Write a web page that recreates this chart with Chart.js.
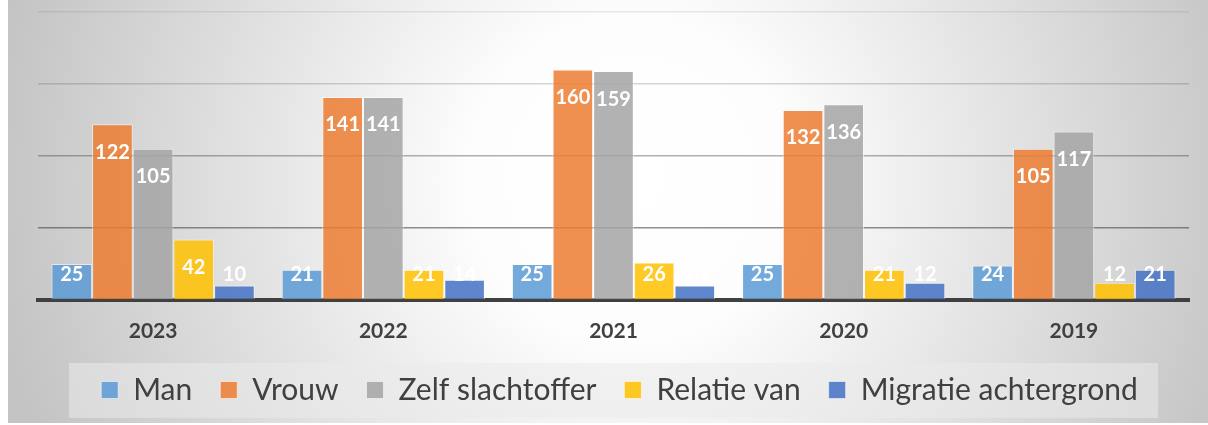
<!DOCTYPE html>
<html><head><meta charset="utf-8">
<script src="https://cdn.jsdelivr.net/npm/chart.js@4.4.1/dist/chart.umd.min.js"></script>
<style>html,body{margin:0;padding:0;background:#fff;overflow:hidden}#wrap{width:1208px;height:425px;position:relative}</style>
</head><body><div id="wrap"><canvas id="c" width="1208" height="425"></canvas></div>
<script>
const categories = ['2023', '2022', '2021', '2020', '2019'];
const seriesNames = ['Man', 'Vrouw', 'Zelf slachtoffer', 'Relatie van', 'Migratie achtergrond'];
const man = [25, 21, 25, 25, 24];
const vrouw = [122, 141, 160, 132, 105];
const zelf = [105, 141, 159, 136, 117];
const relatie = [42, 21, 26, 21, 12];
const migratie = [10, 14, 10, 12, 21];
const yTicks = [0, 50, 100, 150, 200];

const seriesValues = [man, vrouw, zelf, relatie, migratie];
const seriesColors = ['rgba(91,155,213,0.85)', 'rgba(237,125,49,0.85)', 'rgba(165,165,165,0.85)', 'rgba(255,192,0,0.85)', 'rgba(68,114,196,0.85)'];
const gridColors = {0: 'rgba(0,0,0,0)', 50: 'rgba(70,70,70,0.6)', 100: 'rgba(70,70,70,0.42)', 150: 'rgba(70,70,70,0.22)', 200: 'rgba(70,70,70,0.1)'};

const background = {
  id: 'background',
  afterLayout(chart) {
    if (chart.legend) { chart.legend.left += 6; chart.legend.right += 6; }
  },
  beforeDraw(chart) {
    const ctx = chart.ctx;
    ctx.save();
    ctx.fillStyle = '#ffffff';
    ctx.fillRect(0, 0, chart.width, chart.height);
    const g = ctx.createRadialGradient(630, 180, 0, 630, 180, 640);
    g.addColorStop(0, '#ffffff');
    g.addColorStop(0.25, '#fdfdfd');
    g.addColorStop(1, '#c4c4c4');
    ctx.fillStyle = g;
    ctx.fillRect(8, 0, 1200, 423);
    ctx.fillStyle = 'rgba(235,235,235,0.54)';
    ctx.fillRect(69, 363, 1089, 55);
    ctx.restore();
  }
};

const valueLabels = {
  id: 'valueLabels',
  afterDatasetsDraw(chart) {
    const ctx = chart.ctx;
    ctx.save();
    ctx.font = 'bold 20px Lato';
    ctx.fillStyle = '#ffffff';
    ctx.textAlign = 'center';
    ctx.textBaseline = 'alphabetic';
    chart.data.datasets.forEach((ds, i) => {
      chart.getDatasetMeta(i).data.forEach((bar, j) => {
        const cy = Math.min(bar.y + 27.5, bar.base - 25);
        ctx.fillText(String(ds.data[j]), bar.x, cy + 7);
      });
    });
    ctx.restore();
  }
};

new Chart(document.getElementById('c'), {
  type: 'bar',
  data: {
    labels: categories,
    datasets: seriesNames.map((name, i) => ({
      label: name,
      data: seriesValues[i],
      backgroundColor: seriesColors[i],
      borderColor: 'rgba(255,255,255,0.55)',
      borderWidth: 1,
      categoryPercentage: 0.883,
      barPercentage: 1.0
    }))
  },
  options: {
    responsive: false,
    animation: false,
    devicePixelRatio: 1,
    layout: {padding: {left: 38, right: 19, top: 12, bottom: 10}},
    plugins: {
      legend: {
        position: 'bottom',
        labels: {
          font: {family: 'Lato', size: 30},
          color: '#404040',
          boxWidth: 17,
          boxHeight: 17,
          padding: 28
        }
      },
      tooltip: {enabled: false}
    },
    scales: {
      x: {
        z: 1,
        grid: {display: false, drawTicks: false},
        border: {display: true, color: '#404040', width: 4},
        ticks: {font: {family: 'Lato', size: 21, weight: 'bold'}, color: '#404040', padding: 19},
        afterFit(scale) { scale.height = 47; }
      },
      y: {
        min: 0,
        max: 200,
        afterBuildTicks(scale) { scale.ticks = yTicks.map(v => ({value: v})); },
        ticks: {display: false},
        border: {display: false},
        grid: {
          drawTicks: false,
          lineWidth: 1.5,
          color: ctx => gridColors[ctx.tick ? ctx.tick.value : 0] || 'rgba(0,0,0,0)'
        }
      }
    }
  },
  plugins: [background, valueLabels]
});
</script>
</body></html>
